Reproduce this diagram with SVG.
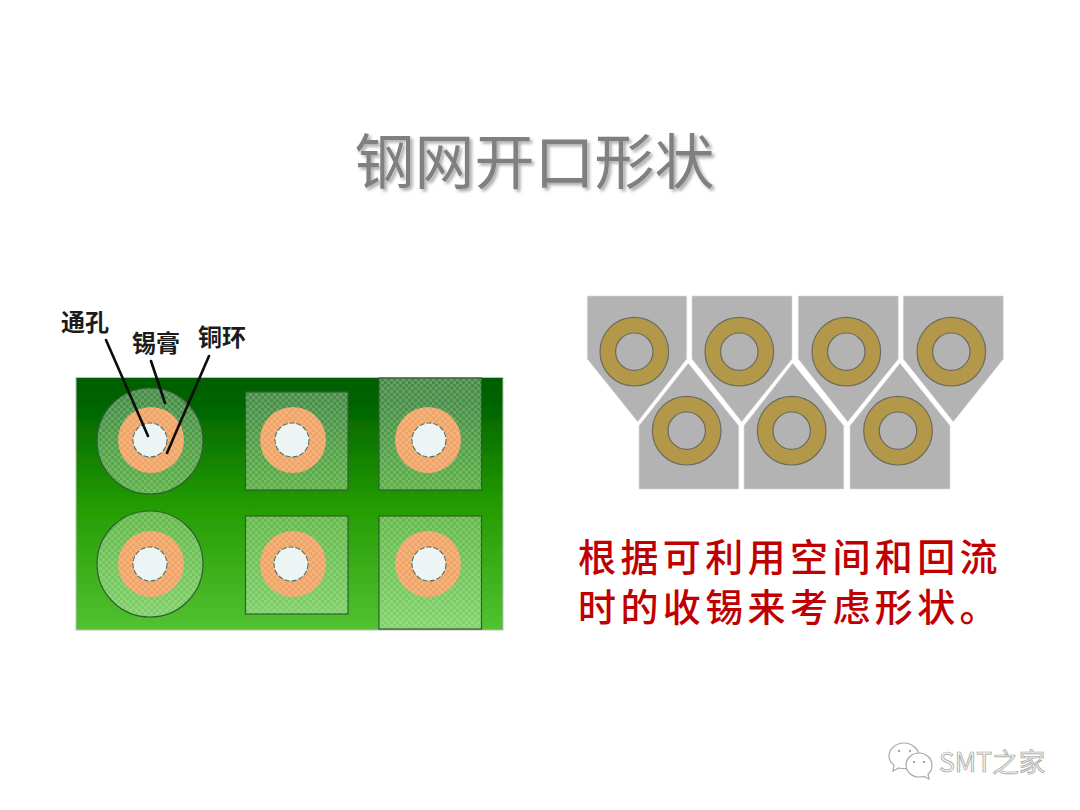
<svg xmlns="http://www.w3.org/2000/svg" width="1080" height="810" viewBox="0 0 1080 810">
<style>
text{font-family:"Noto Sans CJK SC","Liberation Sans",sans-serif}
.pad{fill:url(#chk);stroke:#2f5f35;stroke-width:1.2}
.ring{fill:url(#org);stroke:none}
.hole{fill:#edf4f4;stroke:#4f7565;stroke-width:1.100;stroke-dasharray:5 2}
.gp{fill:#b3b3b3;stroke:#d9d9d9;stroke-width:.6}
.gr{fill:#b29848;stroke:#6b6b60;stroke-width:1.2}
.gh{fill:#b3b3b3;stroke:#6b6b60;stroke-width:1.2}
.lbl{font-size:24px;font-weight:700;fill:#1c1c1c}
.red{font-size:38px;fill:#c00000;letter-spacing:4.400px;font-weight:500}
.ln{stroke:#0a0a0a;stroke-width:2.6;fill:none;stroke-linecap:round}
.wx{fill:#fff;stroke:#a8a8a8;stroke-width:1.2}
</style>
<defs>
<linearGradient id="bg" x1="0" y1="0" x2="0" y2="1">
<stop offset="0" stop-color="#005f00"/><stop offset=".1" stop-color="#006400"/><stop offset=".5" stop-color="#239b00"/><stop offset="1" stop-color="#52c232"/>
</linearGradient>
<pattern id="chk" width="6" height="6" patternUnits="userSpaceOnUse">
<rect width="6" height="6" fill="#ffffff" fill-opacity=".28"/>
<rect width="3" height="3" fill="#ffffff" fill-opacity=".16"/>
<rect x="3" y="3" width="3" height="3" fill="#ffffff" fill-opacity=".16"/>
</pattern>
<pattern id="org" width="6" height="6" patternUnits="userSpaceOnUse">
<rect width="6" height="6" fill="#f1a468"/>
<rect width="3" height="3" fill="#f4b27c"/>
<rect x="3" y="3" width="3" height="3" fill="#f4b27c"/>
</pattern>
<filter id="soft" x="-5%" y="-5%" width="110%" height="110%"><feGaussianBlur stdDeviation=".55"/></filter>
<filter id="sh" x="-5%" y="-20%" width="110%" height="140%"><feDropShadow dx="2.500" dy="2.500" stdDeviation="1.500" flood-color="#000" flood-opacity=".32"/></filter>
</defs>
<rect width="1080" height="810" fill="#fff"/>
<g id="title"><text x="534.500" y="184" font-size="60" text-anchor="middle" fill="#808080" filter="url(#sh)">钢网开口形状</text></g>
<g id="board" filter="url(#soft)">
<rect x="76" y="377.500" width="427" height="252.500" fill="url(#bg)" stroke="#bdbdbd" stroke-width="1"/>
<g id="pad-c1"><circle class="pad" cx="150" cy="441" r="53"/><circle class="ring" cx="151" cy="440" r="33"/><circle class="hole" cx="150" cy="440" r="17"/></g>
<g id="pad-c2"><circle class="pad" cx="150" cy="564" r="53"/><circle class="ring" cx="151" cy="564" r="33"/><circle class="hole" cx="150" cy="564" r="17"/></g>
<g id="pad-s1"><rect class="pad" x="245.500" y="392" width="102.500" height="98"/><circle class="ring" cx="293" cy="440" r="33"/><circle class="hole" cx="292" cy="440" r="17"/></g>
<g id="pad-s2"><rect class="pad" x="245.500" y="516" width="102.500" height="98"/><circle class="ring" cx="293" cy="564" r="33"/><circle class="hole" cx="291" cy="564" r="17"/></g>
<g id="pad-s3"><rect class="pad" x="379" y="378" width="102.500" height="112"/><circle class="ring" cx="428" cy="440" r="33"/><circle class="hole" cx="429" cy="440" r="17"/></g>
<g id="pad-s4"><rect class="pad" x="379" y="516" width="102.500" height="113"/><circle class="ring" cx="428" cy="564" r="33"/><circle class="hole" cx="429" cy="564" r="17"/></g>
</g>
<g id="connectors" filter="url(#soft)">
<line class="ln" x1="106" y1="340" x2="148" y2="436"/>
<line class="ln" x1="151" y1="361" x2="165" y2="403"/>
<line class="ln" x1="209" y1="356" x2="167" y2="453"/>
</g>
<g id="label-hole"><text class="lbl" x="61" y="331">通孔</text></g>
<g id="label-paste"><text class="lbl" x="132" y="352">锡膏</text></g>
<g id="label-ring"><text class="lbl" x="198" y="346">铜环</text></g>
<g id="stencil">
<g id="u1"><polygon class="gp" points="587.300,296 686.700,296 686.700,359 637.700,421.700 587.300,359"/><circle class="gr" cx="634.300" cy="351.700" r="34.300"/><circle class="gh" cx="634.300" cy="351.700" r="18.700"/></g>
<g id="u2"><polygon class="gp" points="692,296 792,296 792,359 741.700,421.700 692,359"/><circle class="gr" cx="739.300" cy="351.700" r="34.300"/><circle class="gh" cx="739.300" cy="351.700" r="18.700"/></g>
<g id="u3"><polygon class="gp" points="798.300,296 898.300,296 898.300,359 847.700,421.700 798.300,359"/><circle class="gr" cx="846.300" cy="351.700" r="34.300"/><circle class="gh" cx="846.300" cy="351.700" r="18.700"/></g>
<g id="u4"><polygon class="gp" points="903.300,296 1003.300,296 1003.300,359 953.300,421.700 903.300,359"/><circle class="gr" cx="951.300" cy="351.700" r="34.300"/><circle class="gh" cx="951.300" cy="351.700" r="18.700"/></g>
<g id="l1"><polygon class="gp" points="688.300,363.300 738.700,425.700 738.700,489 639,489 639,425.700"/><circle class="gr" cx="686.700" cy="430.700" r="34.300"/><circle class="gh" cx="686.700" cy="430.700" r="18.700"/></g>
<g id="l2"><polygon class="gp" points="792.700,363.300 843.700,425.700 843.700,489 744,489 744,425.700"/><circle class="gr" cx="791.700" cy="430.700" r="34.300"/><circle class="gh" cx="791.700" cy="430.700" r="18.700"/></g>
<g id="l3"><polygon class="gp" points="900,363.300 950,425.700 950,489 850,489 850,425.700"/><circle class="gr" cx="898" cy="430.700" r="34.300"/><circle class="gh" cx="898" cy="430.700" r="18.700"/></g>
</g>
<g id="caption">
<text class="red" x="578" y="571">根据可利用空间和回流</text>
<text class="red" x="578" y="621">时的收锡来考虑形状。</text>
</g>
<g id="watermark">
<path class="wx" d="M904 743c-8 0-15 6-15 13 0 4 2 7 5 9l-1 6 6-3c2 .5 3 .7 6 .7 8 0 14-6 14-12.700s-7-13-15-13z"/>
<path class="wx" d="M919 753c-7 0-13 5.500-13 12s6 12 13 12c2 0 3 0 5-.5l5 2.500-1-5c3-2 4-5 4-9 0-6.500-6-12-13-12z"/>
<circle cx="899" cy="751" r="1.200" fill="#a8a8a8"/><circle cx="910" cy="751" r="1.200" fill="#a8a8a8"/>
<circle cx="914" cy="762" r="1.200" fill="#a8a8a8"/><circle cx="924" cy="762" r="1.200" fill="#a8a8a8"/>
<text x="939" y="772" font-size="26.500" fill="#f2f2f2" stroke="#a0a0a0" stroke-width=".7">SMT之家</text>
</g>
</svg>
